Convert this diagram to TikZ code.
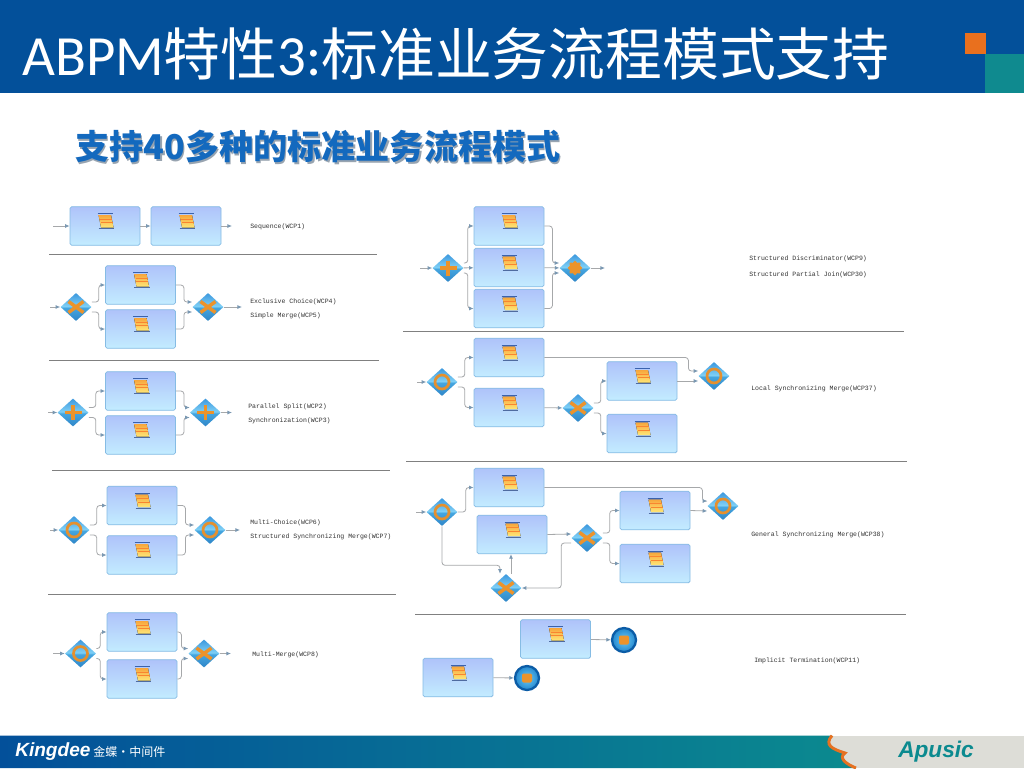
\documentclass[tikz,border=0pt]{standalone}
\usepackage{fontspec}
\usepackage{tikz}
\usetikzlibrary{arrows.meta,shapes.geometric}
\setmainfont{Carlito}
\newfontfamily\cjk{Noto Sans CJK SC}
\newfontfamily\labelfont{Liberation Mono}
\newfontfamily\logofont{Liberation Sans}

\definecolor{headblue}{HTML}{03509A}
\definecolor{headteal}{HTML}{0F8A8F}
\definecolor{headorange}{HTML}{E9701E}
\definecolor{subblue}{HTML}{1369BE}
\definecolor{subshade}{HTML}{98A4B0}
\definecolor{foottail}{HTML}{0B8A8F}
\definecolor{footgray}{HTML}{DDDDD7}
\definecolor{boxtop}{HTML}{AFC3FA}
\definecolor{boxbot}{HTML}{C3ECFF}
\definecolor{boxedge}{HTML}{86BCE4}
\definecolor{flowgray}{HTML}{A6A8AA}
\definecolor{tipblue}{HTML}{7A98B2}
\definecolor{gatetop}{HTML}{3C98DE}
\definecolor{gatemida}{HTML}{7FD0F6}
\definecolor{gatemidb}{HTML}{45A6E0}
\definecolor{gatebot}{HTML}{2F86C8}
\definecolor{markorange}{HTML}{EC932B}
\definecolor{scrollblue}{HTML}{3A62AE}
\definecolor{scrolltop}{HTML}{F7A63C}
\definecolor{scrollbot}{HTML}{FFE676}
\definecolor{stopring}{HTML}{0B5CA6}
\definecolor{stopin}{HTML}{6CCAF4}
\definecolor{stopout}{HTML}{2387CE}

\pgfdeclareverticalshading{gateshade}{100bp}{color(0bp)=(gatebot); color(25bp)=(gatebot); color(49bp)=(gatemidb); color(51bp)=(gatemida); color(75bp)=(gatetop); color(100bp)=(gatetop)}

\tikzset{
	taskbox/.style={draw=boxedge, line width=0.6pt, rounded corners=1.2pt, top color=boxtop, bottom color=boxbot, minimum width=52.5pt, minimum height=28.9pt, inner sep=0pt},
	gatebox/.style={diamond, shading=gateshade, minimum width=23.25pt, minimum height=21pt, inner sep=0pt},
	stopevent/.style={circle, draw=stopring, line width=1.7pt, inner color=stopin, outer color=stopout, minimum size=18pt, inner sep=0pt},
	flow/.style={draw=flowgray, line width=0.6pt, rounded corners=2.2pt, -{Latex[length=3.4pt,width=3pt,color=tipblue]}},
	rule/.style={draw=gray, line width=0.7pt},
	patternlabel/.style={anchor=west, inner sep=0pt, yshift=-0.5pt, text=black!80, font=\labelfont\fontsize{4.9}{6}\selectfont},
	markx/.pic={\draw[markorange, line width=2.6pt] (-7.5,-5.5) -- (7.5,5.5) (-7.5,5.5) -- (7.5,-5.5);},
	markplus/.pic={\draw[markorange, line width=2.8pt] (-8.5,0) -- (8.5,0) (0,-7.5) -- (0,7.5);},
	markring/.pic={\draw[markorange!85!brown, line width=2pt] (0,0) circle (7);},
	markstar/.pic={\draw[markorange, line width=2.8pt, line cap=round] (-5.5,0) -- (5.5,0) (0,-5.5) -- (0,5.5) (-4,-4) -- (4,4) (-4,4) -- (4,-4);},
	markstop/.pic={\fill[markorange, rounded corners=1pt] (-5,-4.5) rectangle (5,4.5);},
	scrollicon/.pic={
		\fill[top color=scrolltop, bottom color=scrollbot] (-7,-6) -- (5.5,-6) -- (8,6.5) -- (-4.5,6.5) -- cycle;
		\draw[scrolltop!80!red, line width=0.25pt] (-5.5,-2) -- (6.5,-2) (-5,1.5) -- (7,1.5);
		\draw[scrollblue, line width=0.7pt] (-8,-7.5) -- (7,-7.5);
		\draw[scrollblue!70!gray, line width=0.7pt] (-7,7.5) -- (8.5,7.5);
	}
}
\newcommand{\taskat}[2]{\node[taskbox] (#1) at (#2) {}; \path (#1.center) ++(0.5,-5) pic {scrollicon};}
\newcommand{\gateat}[3]{\node[gatebox] (#1) at (#2) {}; \path (#1.center) pic {#3};}
\newcommand{\stopat}[2]{\node[stopevent] (#1) at (#2) {}; \path (#1.center) pic {markstop};}

\begin{document}
\begin{tikzpicture}[x=0.75pt,y=-0.75pt]
				\useasboundingbox (0,0) rectangle (1024,768);
				\fill[white] (0,0) rectangle (1024,768);
				% Header
				\fill[headblue] (0,0) rectangle (1024,92.5);
				\fill[headteal] (985,54) rectangle (1024,92.5);
				\fill[headorange] (965,33) rectangle (985.5,54);
				\node[anchor=west, inner sep=0pt, text=white, font=\fontsize{42.6}{46}\selectfont] (title) at (22,54) {ABPM{\cjk 特性}3:{\cjk 标准业务流程模式支持}};
				% Heading
				\node[anchor=west, inner sep=0pt, text=subshade, font=\cjk\bfseries\fontsize{25.6}{30}\selectfont] (headshade) at (76.5,149) {支持40多种的标准业务流程模式};
				\node[anchor=west, inner sep=0pt, text=subblue, font=\cjk\bfseries\fontsize{25.6}{30}\selectfont] (heading) at (75,147) {支持40多种的标准业务流程模式};
				% Footer
				\fill[footgray] (820,735.5) rectangle (1024,768);
				\shade[left color=headblue, right color=foottail] (0,735.5) -- (832,735.5) .. controls (824,745) and (832,749) .. (845,753) .. controls (838,758) and (846,764) .. (856,768) -- (0,768) -- cycle;
				\draw[headorange!90!brown, line width=2.2pt] (832,735.5) .. controls (824,745) and (832,749) .. (845,753) .. controls (838,758) and (846,764) .. (856,768);
				\node[anchor=west, inner sep=0pt, text=white, font=\logofont\bfseries\itshape\fontsize{14.3}{16}\selectfont] (kingdee) at (15,751.5) {Kingdee};
				\node[anchor=west, inner sep=0pt, text=white, font=\cjk\fontsize{9}{12}\selectfont] (kingdeecn) at (93,751.5) {金蝶·中间件};
				\node[anchor=west, inner sep=0pt, text=foottail, font=\logofont\bfseries\itshape\fontsize{17}{20}\selectfont] (apusic) at (898,751.5) {Apusic};
				% Rules
				\foreach \xa/\xb/\y in {49/377/254,49/379/360,52/390/470,48/396/594,403/904/331,406/907/461,415/906/614}
					\draw[rule] (\xa,\y) -- (\xb,\y);
				% Left column
				\taskat{seqA}{105,226}
				\taskat{seqB}{186,226}
				\gateat{choiceIn}{76,307}{markx}
				\taskat{choiceA}{140.5,285}
				\taskat{choiceB}{140.5,329}
				\gateat{choiceOut}{208,307}{markx}
				\gateat{parIn}{73,412.5}{markplus}
				\taskat{parA}{140.5,391}
				\taskat{parB}{140.5,435}
				\gateat{parOut}{205.5,412.5}{markplus}
				\gateat{multiIn}{74,530}{markring}
				\taskat{multiA}{142,505.5}
				\taskat{multiB}{142,555}
				\gateat{multiOut}{210,530}{markring}
				\gateat{mergeIn}{80.5,653.5}{markring}
				\taskat{mergeA}{142,632}
				\taskat{mergeB}{142,679}
				\gateat{mergeOut}{204,653.5}{markx}
				% Right column
				\gateat{discIn}{448,268}{markplus}
				\taskat{discA}{509,226}
				\taskat{discB}{509,267.5}
				\taskat{discC}{509,308.5}
				\gateat{discOut}{575,268}{markstar}
				\gateat{localIn}{442,382}{markring}
				\taskat{localA}{509,357.5}
				\taskat{localB}{509,407.5}
				\gateat{localX}{578,408}{markx}
				\taskat{localC}{642,381}
				\taskat{localD}{642,433.5}
				\gateat{localOut}{714,376}{markring}
				\gateat{generalIn}{442,512}{markring}
				\taskat{generalA}{509,487.5}
				\taskat{generalB}{512,534.5}
				\gateat{generalX}{587,538}{markx}
				\gateat{generalY}{506,588}{markx}
				\taskat{generalC}{655,510.5}
				\taskat{generalD}{655,563.5}
				\gateat{generalOut}{723,506}{markring}
				\taskat{endA}{555.5,639}
				\stopat{stopA}{624,640}
				\taskat{endB}{458,677.5}
				\stopat{stopB}{527,678}
				% Loose ends
				\coordinate (seqStart) at (53,226);
				\coordinate (seqEnd) at (232,226);
				\coordinate (choiceStart) at (50,307);
				\coordinate (choiceEnd) at (242,307);
				\coordinate (parStart) at (48,412.5);
				\coordinate (parEnd) at (232,412.5);
				\coordinate (multiStart) at (50,530);
				\coordinate (multiEnd) at (240,530);
				\coordinate (mergeStart) at (53,653.5);
				\coordinate (mergeEnd) at (231,653.5);
				\coordinate (discStart) at (420,268);
				\coordinate (discEnd) at (605,268);
				\coordinate (localStart) at (417,382);
				\coordinate (generalStart) at (416,512);
				% Straight flows
				\foreach \from/\to in {seqStart/seqA,seqA/seqB,seqB/seqEnd,choiceStart/choiceIn,choiceOut/choiceEnd,parStart/parIn,parOut/parEnd,multiStart/multiIn,multiOut/multiEnd,mergeStart/mergeIn,mergeOut/mergeEnd,discStart/discIn,discIn/discB,discB/discOut,discOut/discEnd,localStart/localIn,localB/localX,generalStart/generalIn,endA/stopA,endB/stopB}
					\draw[flow] (\from) -- (\to);
				% Splits and joins
				\foreach \gin/\upper/\lower/\gout/\runa/\runb in {choiceIn/choiceA/choiceB/choiceOut/7/8,parIn/parA/parB/parOut/7/8,multiIn/multiA/multiB/multiOut/7/8,mergeIn/mergeA/mergeB/mergeOut/4/4,discIn/discA/discC/discOut/4/8}
				{
					\draw[flow] ([yshift=3.75pt]\gin.east) -- ++(\runa,0) |- (\upper.west);
					\draw[flow] ([yshift=-3.75pt]\gin.east) -- ++(\runa,0) |- (\lower.west);
					\draw[flow] (\upper.east) -- ++(\runb,0) |- ([yshift=3.75pt]\gout.west);
					\draw[flow] (\lower.east) -- ++(\runb,0) |- ([yshift=-3.75pt]\gout.west);
				}
				% Local merge
				\draw[flow] ([yshift=3.75pt]localIn.east) -- ++(7,0) |- (localA.west);
				\draw[flow] ([yshift=-3.75pt]localIn.east) -- ++(7,0) |- (localB.west);
				\draw[flow] ([yshift=3.75pt]localX.east) -- ++(7,0) |- (localC.west);
				\draw[flow] ([yshift=-3.75pt]localX.east) -- ++(7,0) |- (localD.west);
				\draw[flow] (localA.east) -- ++(144,0) |- ([yshift=3.75pt]localOut.west);
				\draw[flow] (localC.east) -- ([yshift=-3.75pt]localOut.west);
				% General merge
				\draw[flow] (generalIn.east) -- ++(8,0) |- (generalA.west);
				\draw[flow] (generalIn.south) |- ++(58,39) -- ([xshift=-4.5pt]generalY.north);
				\draw[flow] ([xshift=3.75pt]generalY.north) -- ([xshift=-0.75pt]generalB.south);
				\draw[flow] (generalB.east) -- ([yshift=3pt]generalX.west);
				\draw[flow] ([yshift=-3.75pt]generalX.west) -- ++(-10,0) |- (generalY.east);
				\draw[flow] ([yshift=3.75pt]generalX.east) -- ++(7,0) |- (generalC.west);
				\draw[flow] ([yshift=-3.75pt]generalX.east) -- ++(7,0) |- (generalD.west);
				\draw[flow] (generalA.east) -- ++(158,0) |- ([yshift=3.75pt]generalOut.west);
				\draw[flow] (generalC.east) -- ([yshift=-3.75pt]generalOut.west);
				% Labels
				\node[patternlabel] (seqLabel) at (250,226) {Sequence(WCP1)};
				\node[patternlabel] (choiceLabelA) at (250,301) {Exclusive Choice(WCP4)};
				\node[patternlabel] (choiceLabelB) at (250,315) {Simple Merge(WCP5)};
				\node[patternlabel] (parLabelA) at (248,406) {Parallel Split(WCP2)};
				\node[patternlabel] (parLabelB) at (248,420) {Synchronization(WCP3)};
				\node[patternlabel] (multiLabelA) at (250,522) {Multi-Choice(WCP6)};
				\node[patternlabel] (multiLabelB) at (250,536) {Structured Synchronizing Merge(WCP7)};
				\node[patternlabel] (mergeLabel) at (252,654) {Multi-Merge(WCP8)};
				\node[patternlabel] (discLabelA) at (749,258) {Structured Discriminator(WCP9)};
				\node[patternlabel] (discLabelB) at (749,274) {Structured Partial Join(WCP30)};
				\node[patternlabel] (localLabel) at (751,388) {Local Synchronizing Merge(WCP37)};
				\node[patternlabel] (generalLabel) at (751,534) {General Synchronizing Merge(WCP38)};
				\node[patternlabel] (endLabel) at (754,660) {Implicit Termination(WCP11)};
\end{tikzpicture}
\end{document}
